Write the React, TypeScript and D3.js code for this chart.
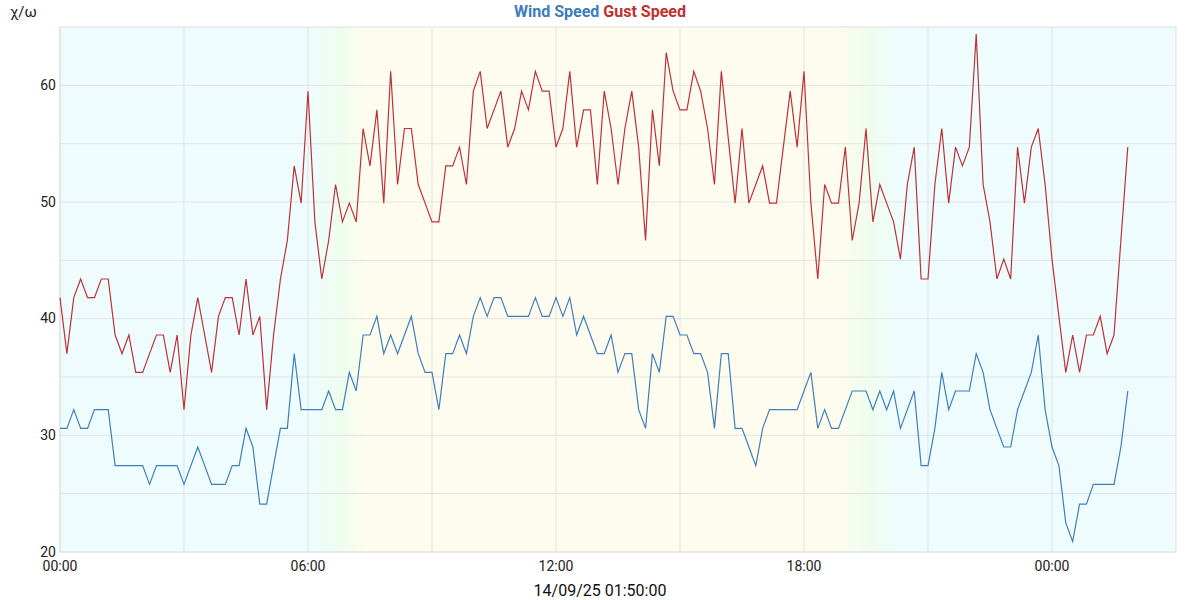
import * as d3 from "d3";

// 10-minute samples starting 13/09/25 00:00 (km/h)
const windSpeed = [
  30.6, 30.6, 32.2, 30.6, 30.6, 32.2, 32.2, 32.2, 27.4, 27.4,
  27.4, 27.4, 27.4, 25.8, 27.4, 27.4, 27.4, 27.4, 25.8, 27.4,
  29.0, 27.4, 25.8, 25.8, 25.8, 27.4, 27.4, 30.6,
  29.0, 24.1, 24.1, 27.4, 30.6, 30.6, 37.0, 32.2, 32.2, 32.2,
  32.2, 33.8, 32.2, 32.2, 35.4, 33.8, 38.6, 38.6, 40.2, 37.0,
  38.6, 37.0, 38.6, 40.2, 37.0, 35.4,
  35.4, 32.2, 37.0, 37.0, 38.6, 37.0, 40.2, 41.8, 40.2, 41.8,
  41.8, 40.2, 40.2, 40.2, 40.2, 41.8, 40.2, 40.2, 41.8, 40.2,
  41.8, 38.6, 40.2, 38.6, 37.0, 37.0, 38.6,
  35.4, 37.0, 37.0, 32.2, 30.6, 37.0, 35.4, 40.2, 40.2, 38.6,
  38.6, 37.0, 37.0, 35.4, 30.6, 37.0, 37.0, 30.6, 30.6, 29.0,
  27.4, 30.6, 32.2, 32.2, 32.2, 32.2, 32.2,
  33.8, 35.4, 30.6, 32.2, 30.6, 30.6, 32.2, 33.8, 33.8, 33.8,
  32.2, 33.8, 32.2, 33.8, 30.6, 32.2, 33.8, 27.4, 27.4, 30.6,
  35.4, 32.2, 33.8, 33.8, 33.8, 37.0, 35.4,
  32.2, 30.6, 29.0, 29.0, 32.2, 33.8, 35.4, 38.6, 32.2, 29.0,
  27.4, 22.5, 20.9, 24.1, 24.1, 25.8, 25.8, 25.8, 25.8, 29.0,
  33.8,
];

const gustSpeed = [
  41.8, 37.0, 41.8, 43.4, 41.8, 41.8, 43.4, 43.4, 38.6, 37.0,
  38.6, 35.4, 35.4, 37.0, 38.6, 38.6, 35.4, 38.6, 32.2, 38.6,
  41.8, 38.6, 35.4, 40.2, 41.8, 41.8, 38.6, 43.4,
  38.6, 40.2, 32.2, 38.6, 43.4, 46.7, 53.1, 49.9, 59.5, 48.3,
  43.4, 46.7, 51.5, 48.3, 49.9, 48.3, 56.3, 53.1, 57.9, 49.9,
  61.2, 51.5, 56.3, 56.3, 51.5, 49.9,
  48.3, 48.3, 53.1, 53.1, 54.7, 51.5, 59.5, 61.2, 56.3, 57.9,
  59.5, 54.7, 56.3, 59.5, 57.9, 61.2, 59.5, 59.5, 54.7, 56.3,
  61.2, 54.7, 57.9, 57.9, 51.5, 59.5, 56.3,
  51.5, 56.3, 59.5, 54.7, 46.7, 57.9, 53.1, 62.8, 59.5, 57.9,
  57.9, 61.2, 59.5, 56.3, 51.5, 61.2, 55.5, 49.9, 56.3, 49.9,
  51.5, 53.1, 49.9, 49.9, 54.7, 59.5, 54.7,
  61.2, 49.9, 43.4, 51.5, 49.9, 49.9, 54.7, 46.7, 49.9, 56.3,
  48.3, 51.5, 49.9, 48.3, 45.1, 51.5, 54.7, 43.4, 43.4, 51.5,
  56.3, 49.9, 54.7, 53.1, 54.7, 64.4, 51.5,
  48.3, 43.4, 45.1, 43.4, 54.7, 49.9, 54.7, 56.3, 51.5, 45.1,
  40.2, 35.4, 38.6, 35.4, 38.6, 38.6, 40.2, 37.0, 38.6, 46.7,
  54.7,
];

const yTickLabels = [20, 30, 40, 50, 60];
const yGridValues = [20, 25, 30, 35, 40, 45, 50, 55, 60];

// day / night shading, hours from start
const skyStops = [
  { hour: 0, color: "#eefcfd" },
  { hour: 6.1, color: "#eefcfd" },
  { hour: 6.85, color: "#effdee" },
  { hour: 7.4, color: "#fefcee" },
  { hour: 18.75, color: "#fefcee" },
  { hour: 19.6, color: "#effdee" },
  { hour: 20.25, color: "#eefcfd" },
  { hour: 27, color: "#eefcfd" },
];

const start = new Date(2025, 8, 13, 0, 0, 0);
const stepMinutes = 10;

export default function App() {
  const width = 1200;
  const height = 600;
  const margin = { top: 27, right: 24, bottom: 48, left: 60 };

  const times = windSpeed.map((_, i) => d3.timeMinute.offset(start, i * stepMinutes));
  const end = d3.timeHour.offset(start, 27);

  const xScale = d3
    .scaleTime()
    .domain([start, end])
    .range([margin.left, width - margin.right]);

  const yScale = d3
    .scaleLinear()
    .domain([20, 65])
    .range([height - margin.bottom, margin.top]);

  const gridTimes = d3.timeHour.every(3)!.range(start, end);
  const labelTimes = d3.timeHour.every(6)!.range(start, end);
  const fmtHour = d3.timeFormat("%H:%M");
  const fmtFull = d3.timeFormat("%d/%m/%y %H:%M:%S");

  const line = d3
    .line<number>()
    .x((_, i) => xScale(times[i]))
    .y((d) => yScale(d));

  const plotW = width - margin.right - margin.left;
  const plotH = height - margin.bottom - margin.top;
  const font = "Roboto, 'Noto Sans', sans-serif";

  return (
    <svg
      width={width}
      height={height}
      style={{ position: "absolute", left: 0, top: 0, background: "#fff" }}
    >
      <defs>
        <linearGradient id="sky" x1="0" x2="1" y1="0" y2="0">
          {skyStops.map((s, i) => (
            <stop
              key={i}
              offset={(xScale(d3.timeMinute.offset(start, s.hour * 60)) - margin.left) / plotW}
              stopColor={s.color}
            />
          ))}
        </linearGradient>
      </defs>

      <rect
        x={margin.left}
        y={margin.top}
        width={plotW}
        height={plotH}
        fill="url(#sky)"
      />

      {yGridValues.map((v) => (
        <line
          key={v}
          x1={margin.left}
          x2={width - margin.right}
          y1={yScale(v)}
          y2={yScale(v)}
          stroke="#e3e3e3"
          strokeWidth={1}
        />
      ))}
      {gridTimes.map((t) => (
        <line
          key={+t}
          x1={xScale(t)}
          x2={xScale(t)}
          y1={margin.top}
          y2={height - margin.bottom}
          stroke="#e3e3e3"
          strokeWidth={1}
        />
      ))}
      <rect
        x={margin.left}
        y={margin.top}
        width={plotW}
        height={plotH}
        fill="none"
        stroke="#e0e0e0"
        strokeWidth={1}
      />

      <path d={line(gustSpeed) ?? ""} fill="none" stroke="#be3237" strokeWidth={1.2} />
      <path d={line(windSpeed) ?? ""} fill="none" stroke="#3f7fbc" strokeWidth={1.2} />

      {yTickLabels.map((v) => (
        <text
          key={v}
          x={margin.left - 4}
          y={yScale(v) + 1}
          textAnchor="end"
          dominantBaseline="middle"
          fontSize={14}
          fontFamily={font}
          fill="#222"
        >
          {v}
        </text>
      ))}
      {labelTimes.map((t) => (
        <text
          key={+t}
          x={xScale(t)}
          y={height - margin.bottom + 19}
          textAnchor="middle"
          fontSize={14}
          fontFamily={font}
          fill="#222"
        >
          {fmtHour(t)}
        </text>
      ))}

      <text x={10} y={17} fontSize={15} fontFamily={font} fill="#222">
        χ/ω
      </text>

      <text
        x={width / 2}
        y={17}
        textAnchor="middle"
        fontSize={16}
        fontWeight="bold"
        fontFamily={font}
      >
        <tspan fill="#3b7dbd">Wind Speed</tspan>
        <tspan fill="#c0312f"> Gust Speed</tspan>
      </text>

      <text
        x={width / 2}
        y={596}
        textAnchor="middle"
        fontSize={16}
        fontFamily={font}
        fill="#111"
      >
        {fmtFull(times[times.length - 1])}
      </text>
    </svg>
  );
}
